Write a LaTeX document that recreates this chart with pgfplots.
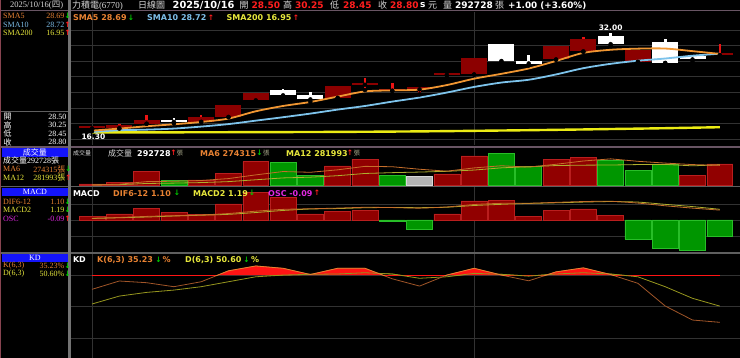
\documentclass[border=0pt]{standalone}
\usepackage{fontspec}
\setmainfont{Liberation Serif}
\newfontfamily\cjk{Noto Sans CJK TC}
\newfontfamily\vb{DejaVu Sans}
\usepackage{pgfplots}
\usepackage{pgfplotstable}
\pgfplotsset{compat=1.18}

\definecolor{upbody}{RGB}{140,0,0}
\definecolor{wickred}{RGB}{235,20,20}
\definecolor{smaO}{RGB}{240,150,50}
\definecolor{smaB}{RGB}{125,195,235}
\definecolor{smaY}{RGB}{235,235,20}
\definecolor{gridc}{RGB}{50,50,50}
\definecolor{volR}{RGB}{145,0,0}
\definecolor{volRb}{RGB}{185,30,30}
\definecolor{volG}{RGB}{0,150,0}
\definecolor{volGb}{RGB}{40,190,40}
\definecolor{volGr}{RGB}{180,180,180}
\definecolor{txtO}{RGB}{232,130,50}
\definecolor{txtB}{RGB}{125,190,232}
\definecolor{txtY}{RGB}{232,232,60}
\definecolor{txtM}{RGB}{225,40,225}
\definecolor{hdrblue}{RGB}{20,20,250}
\definecolor{arrG}{RGB}{0,205,0}
\definecolor{arrR}{RGB}{255,30,30}
\definecolor{lgrey}{RGB}{215,215,215}
\definecolor{sep}{RGB}{95,95,95}
\definecolor{sepm}{RGB}{105,85,100}
\definecolor{kline}{RGB}{160,85,40}
\definecolor{dline}{RGB}{150,150,30}
\definecolor{kdred}{RGB}{255,20,20}
\definecolor{zhang}{RGB}{170,170,140}

\pgfplotstableread{
i O H L C
0 16.75 17.00 16.30 16.85
1 16.75 17.45 16.75 17.25
2 17.50 18.85 17.50 18.05
4 17.80 18.85 17.80 18.60
5 18.60 20.50 18.55 20.45
6 21.25 22.50 20.90 22.45
9 21.65 23.60 21.60 23.55
10 23.75 24.75 22.90 23.85
11 22.80 23.95 22.75 23.10
12 23.00 23.45 22.22 23.10
13 25.35 25.50 24.90 25.45
14 25.40 28.10 25.35 28.05
17 27.80 29.95 27.75 29.90
18 29.10 31.40 29.00 31.05
20 27.40 29.30 27.40 29.30
23 28.50 30.25 28.45 28.80
}\candUp
\pgfplotstableread{
i O H L C
3 18.15 18.45 17.55 17.80
7 22.85 23.10 21.90 22.05
8 22.05 22.60 21.00 21.40
15 30.20 30.25 27.40 27.55
16 27.55 28.45 26.85 27.15
19 31.50 32.00 30.05 30.25
21 30.60 31.05 27.20 27.25
22 28.30 28.35 27.40 27.80
}\candDn
\pgfplotstableread{
i S5 S10 S200
0 16.40 16.19 16.12
1 16.73 16.46 16.12
2 17.10 16.56 16.13
3 17.42 16.73 16.13
4 17.79 17.05 16.14
5 18.33 17.45 16.15
6 19.50 18.00 16.16
7 20.35 18.55 16.17
8 20.99 19.13 16.18
9 21.85 19.77 16.20
10 22.68 20.35 16.22
11 22.85 21.05 16.25
12 22.97 21.70 16.28
13 23.70 22.50 16.32
14 24.72 23.40 16.37
15 25.50 24.10 16.42
16 26.35 24.55 16.47
17 27.56 25.40 16.53
18 28.85 26.40 16.59
19 29.35 27.10 16.66
20 29.53 27.60 16.72
21 29.55 27.95 16.79
22 29.13 28.40 16.87
23 28.69 28.72 16.95
}\sma
\pgfplotstableread{
i v m6 m12
0 23000 12000 10000
1 46000 20000 14000
2 198000 55000 30000
3 67000 60000 35000
4 77000 70000 42000
5 167000 96000 55000
6 324000 146000 80000
7 316000 191000 105000
8 135000 181000 115000
9 266000 214000 135000
10 360000 261000 165000
11 135000 256000 176000
12 121000 222000 184000
13 158000 196000 194000
14 401000 240000 211000
15 437000 269000 241000
16 256000 251000 256000
17 360000 289000 272000
18 383000 333000 277000
19 337000 362000 279000
20 202000 329000 285000
21 293000 305000 287000
22 135000 285000 268000
23 292728 274315 281993
}\vol
\pgfplotstableread{
i osc dif macd
0 0.022 0.19 0.17
1 0.034 0.28 0.25
2 0.066 0.40 0.33
3 0.041 0.48 0.44
4 0.032 0.56 0.53
5 0.090 0.72 0.63
6 0.153 0.98 0.83
7 0.125 1.18 1.06
8 0.034 1.25 1.22
9 0.047 1.32 1.27
10 0.052 1.41 1.36
11 -0.010 1.38 1.39
12 -0.052 1.32 1.37
13 0.034 1.45 1.42
14 0.107 1.72 1.61
15 0.112 1.85 1.74
16 0.019 1.86 1.84
17 0.052 1.96 1.91
18 0.062 2.05 1.99
19 0.028 2.08 2.05
20 -0.107 1.88 1.99
21 -0.159 1.58 1.74
22 -0.169 1.32 1.49
23 -0.090 1.10 1.19
}\macd
\pgfplotstableread{
i K D
0 66.5 52.6
1 74.4 60.1
2 72.8 63.6
3 69.0 65.8
4 73.7 69.0
5 84.0 73.7
6 88.6 78.4
7 86.4 80.0
8 80.5 80.7
9 86.4 81.0
10 86.4 82.2
11 76.5 81.0
12 69.6 77.0
13 80.0 78.4
14 86.4 81.6
15 80.0 80.7
16 74.6 79.0
17 83.0 81.0
18 86.8 82.2
19 80.5 81.0
20 72.2 78.4
21 50.7 69.0
22 37.4 58.0
23 35.23 50.60
}\kd

\pgfplotsset{
 panel/.style={scale only axis, width=670pt, xmin=-0.806, xmax=23.74,
   axis line style={draw=none}, tick style={draw=none}, major tick length=0pt,
   xticklabels={}, yticklabels={}, xtick={0,14},
   grid style={draw=gridc, line width=0.9pt}, xmajorgrids, ymajorgrids},
 cbody/.style={only marks, mark=none, error bars/.cd, y dir=plus, y explicit,
   error mark=none, error bar style={line width=26pt, #1}},
 cwick/.style={only marks, mark=none, error bars/.cd, y dir=plus, y explicit,
   error mark=none, error bar style={line width=2.6pt, #1}},
}

\newcommand\lpf{\fontsize{8}{9.5}\selectfont}
\newcommand\arrf{\vb\bfseries\fontsize{7.5}{8}\selectfont}
\newcommand\lgf{\vb\bfseries\fontsize{8}{9}\selectfont}
\newcommand\hdf{\fontsize{9}{10}\selectfont}
\newcommand\hdn{\vb\bfseries\fontsize{9}{10}\selectfont}
\newcommand\lrow[6]{%
  \node[anchor=west,text=#2,font=\lpf,inner sep=0pt] at (3,#1) {#3};
  \node[anchor=east,text=#2,font=\lpf,inner sep=0pt] at (64.5,#1) {#4};
  \node[text=#6,font=\arrf,inner sep=0pt] at (67.6,#1) {#5};}

\begin{document}
\begin{tikzpicture}[x=1pt,y=-1pt]
\useasboundingbox (0,0) rectangle (740,358);
\fill[black] (0,0) rectangle (740,358);

% ---------- PRICE ----------
\begin{axis}[panel, at={(70pt,-145pt)}, anchor=south west, height=133pt,
  ymin=14.1, ymax=35.4, ytick={15,17.5,20,22.5,25,27.5,30,32.5}]
\addplot[cwick=wickred] table[x=i, y=L, y error plus expr={\thisrow{H}-\thisrow{L}}] \candUp;
\addplot[cbody=upbody] table[x=i, y expr={min(\thisrow{O},\thisrow{C})}, y error plus expr={max(abs(\thisrow{C}-\thisrow{O}),0.32)}] \candUp;
\addplot[cwick=white] table[x=i, y=L, y error plus expr={\thisrow{H}-\thisrow{L}}] \candDn;
\addplot[cbody=white] table[x=i, y expr={min(\thisrow{O},\thisrow{C})}, y error plus expr={max(abs(\thisrow{C}-\thisrow{O}),0.32)}] \candDn;
\addplot[smaY, line width=2.4pt] table[x=i, y=S200] \sma;
\addplot[smaB, line width=1.8pt, smooth, tension=0.5] table[x=i, y=S10] \sma;
\addplot[smaO, line width=1.8pt, smooth, tension=0.5] table[x=i, y=S5] \sma;
\node[text=white, font=\vb\bfseries\fontsize{7.5}{8}\selectfont] at (axis cs:0.05,15.38) {16.30};
\node[text=white, font=\vb\bfseries\fontsize{7.5}{8}\selectfont] at (axis cs:19,32.85) {32.00};
\end{axis}

% ---------- VOLUME ----------
\begin{axis}[panel, at={(70pt,-185.7pt)}, anchor=south west, height=38.2pt,
  ymin=0, ymax=515300, ymajorgrids=false, ytick=\empty]
\addplot[ybar, bar width=0.95, bar shift=0pt, fill=volR, draw=volRb, line width=0.6pt] coordinates
 {(0,23000) (1,46000) (2,198000) (4,77000) (5,167000) (6,324000) (9,266000) (10,360000) (13,158000) (14,401000) (17,360000) (18,383000) (22,135000) (23,292728)};
\addplot[ybar, bar width=0.95, bar shift=0pt, fill=volG, draw=volGb, line width=0.6pt] coordinates
 {(3,67000) (7,316000) (8,135000) (11,135000) (15,437000) (16,256000) (19,337000) (20,202000) (21,293000)};
\addplot[ybar, bar width=0.95, bar shift=0pt, fill=volGr, draw=white!85!black, line width=0.6pt] coordinates
 {(12,121000)};
\addplot[txtY!75!black, line width=0.8pt] table[x=i, y=m12] \vol;
\addplot[txtO!85!black, line width=0.8pt] table[x=i, y=m6] \vol;
\end{axis}

% ---------- MACD ----------
\begin{axis}[panel, at={(70pt,-252pt)}, anchor=south west, height=65pt,
  ymin=-0.17978, ymax=0.18539, ytick={-0.0899,0,0.0899}]
\addplot[ybar, bar width=0.95, bar shift=0pt, fill=volR, draw=volRb, line width=0.6pt] coordinates
 {(0,0.022) (1,0.034) (2,0.066) (3,0.041) (4,0.032) (5,0.090) (6,0.153) (7,0.125) (8,0.034) (9,0.047) (10,0.052) (13,0.034) (14,0.107) (15,0.112) (16,0.019) (17,0.052) (18,0.062) (19,0.028)};
\addplot[ybar, bar width=0.95, bar shift=0pt, fill=volG, draw=volGb, line width=0.6pt] coordinates
 {(11,-0.010) (12,-0.052) (20,-0.107) (21,-0.159) (22,-0.169) (23,-0.090)};
\end{axis}
\begin{axis}[panel, at={(70pt,-252pt)}, anchor=south west, height=65pt,
  ymin=-3.5556, ymax=3.6667, xmajorgrids=false, ymajorgrids=false, ytick=\empty]
\addplot[txtY!75!black, line width=0.8pt, smooth, tension=0.4] table[x=i, y=macd] \macd;
\addplot[txtO!85!black, line width=0.8pt, smooth, tension=0.4] table[x=i, y=dif] \macd;
\end{axis}

% ---------- KD ----------
\begin{axis}[panel, at={(70pt,-358pt)}, anchor=south west, height=104pt,
  ymin=1.4, ymax=100, ytick={20,50,80}]
\addplot[dline, line width=0.8pt] table[x=i, y=D] \kd;
\addplot[kline, line width=0.8pt] table[x=i, y=K] \kd;
\end{axis}
% red area where K is above 80: same scale, axis clipped to 80..100
\begin{axis}[panel, at={(70pt,-275.05pt)}, anchor=south west, height=21.095pt,
  ymin=80, ymax=100, xmajorgrids=false, ymajorgrids=false, ytick=\empty]
\addplot[fill=kdred, draw=none] table[x=i, y=K] \kd \closedcycle;
\addplot[dline, line width=0.8pt] table[x=i, y=D] \kd;
\addplot[txtO, line width=0.8pt] table[x=i, y=K] \kd;
\end{axis}

% ---------- separators ----------
\draw[sepm, line width=1.2pt] (0,10.8) -- (740,10.8);
\draw[sepm, line width=1.5pt] (0,146.8) -- (740,146.8);
\draw[sep, line width=1.6pt] (0,186.6) -- (740,186.6);
\draw[sep, line width=1.6pt] (0,252.8) -- (740,252.8);
\draw[sep, line width=0.8pt] (0,111) -- (69,111);
\fill[white!45!black] (68.2,0) rectangle (70.6,358);
\fill[sepm!80!red] (0,0) rectangle (1.4,358);

% ---------- header ----------
\node[anchor=west,inner sep=0pt,text=lgrey,font=\fontsize{8.5}{10}\selectfont] at (10,5.4) {2025/10/16({\cjk 四})};
\node[anchor=west,inner sep=0pt,text=lgrey,font=\hdf] at (71.8,5.4) {{\cjk 力積電}(6770)};
\node[anchor=west,inner sep=0pt,text=lgrey,font=\cjk\hdf] at (138,5.4) {日線圖};
\node[anchor=west,inner sep=0pt,text=white,font=\vb\bfseries\fontsize{9.8}{10}\selectfont] at (172.5,5.4) {2025/10/16};
\node[anchor=west,inner sep=0pt,text=lgrey,font=\cjk\hdf] at (239.5,5.4) {開};
\node[anchor=west,inner sep=0pt,text=arrR,font=\hdn] at (251.5,5.4) {28.50};
\node[anchor=west,inner sep=0pt,text=lgrey,font=\cjk\hdf] at (283,5.4) {高};
\node[anchor=west,inner sep=0pt,text=arrR,font=\hdn] at (295,5.4) {30.25};
\node[anchor=west,inner sep=0pt,text=lgrey,font=\cjk\hdf] at (330,5.4) {低};
\node[anchor=west,inner sep=0pt,text=arrR,font=\hdn] at (343,5.4) {28.45};
\node[anchor=west,inner sep=0pt,text=lgrey,font=\cjk\hdf] at (378,5.4) {收};
\node[anchor=west,inner sep=0pt,text=arrR,font=\hdn] at (390,5.4) {28.80};
\node[anchor=west,inner sep=0pt,text=white,font=\hdn] at (420,5.4) {s};
\node[anchor=west,inner sep=0pt,text=lgrey,font=\cjk\hdf] at (428,5.4) {元};
\node[anchor=west,inner sep=0pt,text=lgrey,font=\cjk\hdf] at (443,5.4) {量};
\node[anchor=west,inner sep=0pt,text=white,font=\hdn] at (455,5.4) {292728};
\node[anchor=west,inner sep=0pt,text=lgrey,font=\cjk\hdf] at (495,5.4) {張};
\node[anchor=west,inner sep=0pt,text=white,font=\vb\bfseries\fontsize{8.8}{10}\selectfont] at (508,5.4) {+1.00 (+3.60\%)};

% ---------- left panel ----------
\lrow{16}{txtO}{SMA5}{28.69}{↓}{arrG}
\lrow{24.6}{txtB}{SMA10}{28.72}{↑}{arrR}
\lrow{33.2}{txtY}{SMA200}{16.95}{↑}{arrR}
\node[anchor=west,text=white,font=\cjk\lpf,inner sep=0pt] at (3.5,116.8) {開};
\node[anchor=west,text=white,font=\cjk\lpf,inner sep=0pt] at (3.5,125.2) {高};
\node[anchor=west,text=white,font=\cjk\lpf,inner sep=0pt] at (3.5,133.6) {低};
\node[anchor=west,text=white,font=\cjk\lpf,inner sep=0pt] at (3.5,142) {收};
\node[anchor=east,text=white,font=\lpf,inner sep=0pt] at (66.5,116.8) {28.50};
\node[anchor=east,text=white,font=\lpf,inner sep=0pt] at (66.5,125.2) {30.25};
\node[anchor=east,text=white,font=\lpf,inner sep=0pt] at (66.5,133.6) {28.45};
\node[anchor=east,text=white,font=\lpf,inner sep=0pt] at (66.5,142) {28.80};

\fill[hdrblue] (1.6,148.3) rectangle (68,156.6);
\node[text=white,font=\cjk\fontsize{8}{9}\selectfont,inner sep=0pt] at (35,152.4) {成交量};
\node[anchor=west,text=white,font=\lpf,inner sep=0pt] at (3,160.8) {{\cjk 成交量}292728{\cjk 張}};
\node[anchor=west,text=txtO,font=\lpf,inner sep=0pt] at (3,169.2) {MA6};
\node[anchor=east,text=txtO,font=\lpf,inner sep=0pt] at (65.5,169.2) {274315{\cjk 張}};
\node[text=arrG,font=\arrf,inner sep=0pt] at (68.2,169.2) {↓};
\node[anchor=west,text=txtY,font=\lpf,inner sep=0pt] at (3,177.6) {MA12};
\node[anchor=east,text=txtY,font=\lpf,inner sep=0pt] at (65.5,177.6) {281993{\cjk 張}};
\node[text=arrR,font=\arrf,inner sep=0pt] at (68.2,177.6) {↑};

\fill[hdrblue] (1.6,188.2) rectangle (68,195.6);
\node[text=white,font=\fontsize{8}{9}\selectfont,inner sep=0pt] at (35,192) {MACD};
\lrow{201.6}{txtO}{DIF6-12}{1.10}{↓}{arrG}
\lrow{210}{txtY}{MACD2}{1.19}{↓}{arrG}
\lrow{218.4}{txtM}{OSC}{-0.09}{↑}{arrR}

\fill[hdrblue] (1.6,253.6) rectangle (68,261.6);
\node[text=white,font=\fontsize{8}{9}\selectfont,inner sep=0pt] at (35,257.6) {KD};
\lrow{265.6}{txtO}{K(6,3)}{35.23\%}{↓}{arrG}
\lrow{274}{txtY}{D(6,3)}{50.60\%}{↓}{arrG}

% ---------- in-plot legends ----------
\node[anchor=west,inner sep=0pt,text=txtO,font=\lgf] at (72.8,18) {SMA5 28.69};
\node[inner sep=0pt,text=arrG,font=\arrf] at (131,18) {↓};
\node[anchor=west,inner sep=0pt,text=txtB,font=\lgf] at (147,18) {SMA10 28.72};
\node[inner sep=0pt,text=arrR,font=\arrf] at (211,18) {↑};
\node[anchor=west,inner sep=0pt,text=txtY,font=\lgf] at (226.5,18) {SMA200 16.95};
\node[inner sep=0pt,text=arrR,font=\arrf] at (296,18) {↑};

\node[anchor=west,inner sep=0pt,text=lgrey,font=\cjk\fontsize{6}{7}\selectfont] at (72.8,153.2) {成交量};
\node[anchor=west,inner sep=0pt,text=lgrey,font=\cjk\fontsize{8}{9}\selectfont] at (108,153.2) {成交量};
\node[anchor=west,inner sep=0pt,text=white,font=\lgf] at (137,153.2) {292728};
\node[inner sep=0pt,text=arrR,font=\arrf] at (173.5,153.2) {↑};
\node[anchor=west,inner sep=0pt,text=zhang,font=\cjk\fontsize{6.5}{7}\selectfont] at (176.5,153.2) {張};
\node[anchor=west,inner sep=0pt,text=txtO,font=\lgf] at (200,153.2) {MA6 274315};
\node[inner sep=0pt,text=arrG,font=\arrf] at (259.5,153.2) {↓};
\node[anchor=west,inner sep=0pt,text=zhang,font=\cjk\fontsize{6.5}{7}\selectfont] at (263,153.2) {張};
\node[anchor=west,inner sep=0pt,text=txtY,font=\lgf] at (286,153.2) {MA12 281993};
\node[inner sep=0pt,text=arrR,font=\arrf] at (350,153.2) {↑};
\node[anchor=west,inner sep=0pt,text=zhang,font=\cjk\fontsize{6.5}{7}\selectfont] at (353.5,153.2) {張};

\node[anchor=west,inner sep=0pt,text=white,font=\lgf] at (72.8,193.2) {MACD};
\node[anchor=west,inner sep=0pt,text=txtO,font=\lgf] at (113,193.2) {DIF6-12 1.10};
\node[inner sep=0pt,text=arrG,font=\arrf] at (177,193.2) {↓};
\node[anchor=west,inner sep=0pt,text=txtY,font=\lgf] at (193,193.2) {MACD2 1.19};
\node[inner sep=0pt,text=arrG,font=\arrf] at (252,193.2) {↓};
\node[anchor=west,inner sep=0pt,text=txtM,font=\lgf] at (268,193.2) {OSC -0.09};
\node[inner sep=0pt,text=arrR,font=\arrf] at (317,193.2) {↑};

\node[anchor=west,inner sep=0pt,text=white,font=\lgf] at (72.8,260) {KD};
\node[anchor=west,inner sep=0pt,text=txtO,font=\lgf] at (97,260) {K(6,3) 35.23};
\node[inner sep=0pt,text=arrG,font=\arrf] at (158.5,260) {↓};
\node[anchor=west,inner sep=0pt,text=txtO,font=\lgf] at (162.5,260) {\%};
\node[anchor=west,inner sep=0pt,text=txtY,font=\lgf] at (185,260) {D(6,3) 50.60};
\node[inner sep=0pt,text=arrG,font=\arrf] at (246.5,260) {↓};
\node[anchor=west,inner sep=0pt,text=txtY,font=\lgf] at (251,260) {\%};
\end{tikzpicture}
\end{document}
